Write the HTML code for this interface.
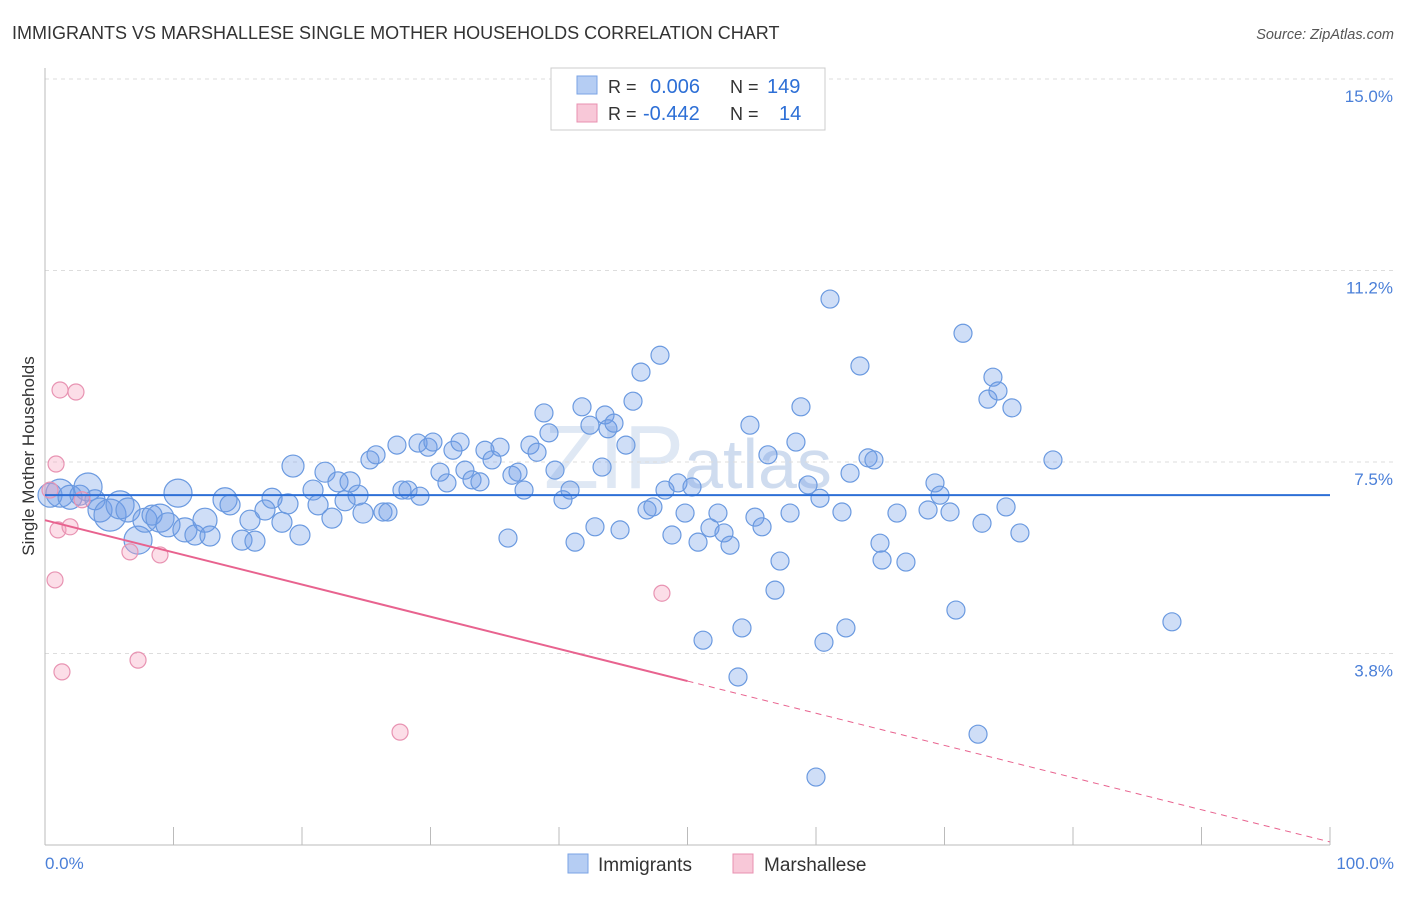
<!DOCTYPE html>
<html><head><meta charset="utf-8">
<style>
body{margin:0;background:#fff;font-family:"Liberation Sans",sans-serif;}
svg text{font-family:"Liberation Sans",sans-serif;}
</style></head>
<body>
<svg id="chart" width="1406" height="892" xmlns="http://www.w3.org/2000/svg">
<text x="12" y="39" font-size="18" fill="#333">IMMIGRANTS VS MARSHALLESE SINGLE MOTHER HOUSEHOLDS CORRELATION CHART</text>
<text x="1394" y="39" font-size="14.5" fill="#555" font-style="italic" text-anchor="end">Source: ZipAtlas.com</text>
<text x="688" y="488" font-size="90" fill="#dfe8f4" text-anchor="middle" font-family="Liberation Serif">ZIP<tspan font-family="Liberation Sans" font-size="70" fill="#cfdcef">atlas</tspan></text>
<g id="grid"></g><g id="axes"></g><g id="pts"></g><g id="lines"></g>
<text transform="translate(34,456) rotate(-90)" font-size="17" fill="#333" text-anchor="middle">Single Mother Households</text>
<text x="45" y="869" font-size="17" fill="#4a7fd8">0.0%</text>
<text x="1394" y="869" font-size="17" fill="#4a7fd8" text-anchor="end">100.0%</text>
<g>
<rect x="551" y="68" width="274" height="62" fill="#fff" stroke="#ccc"/>
<rect x="577" y="76" width="20" height="18" fill="#b5cdf3" stroke="#7aa3e5"/>
<text x="608" y="93" font-size="18" fill="#333">R =</text>
<text x="650" y="93" font-size="20" fill="#2d6fd6">0.006</text>
<text x="730" y="93" font-size="18" fill="#333">N =</text>
<text x="767" y="93" font-size="20" fill="#2d6fd6">149</text>
<rect x="577" y="104" width="20" height="18" fill="#f8c8d8" stroke="#e890b0"/>
<text x="608" y="120" font-size="18" fill="#333">R =</text>
<text x="643" y="120" font-size="20" fill="#2d6fd6">-0.442</text>
<text x="730" y="120" font-size="18" fill="#333">N =</text>
<text x="779" y="120" font-size="20" fill="#2d6fd6">14</text>
</g>
<g>
<rect x="568" y="854" width="20" height="19" fill="#b5cdf3" stroke="#7aa3e5"/>
<text x="598" y="871" font-size="19" fill="#333">Immigrants</text>
<rect x="733" y="854" width="20" height="19" fill="#f8c8d8" stroke="#e890b0"/>
<text x="764" y="871" font-size="19" fill="#333">Marshallese</text>
</g>
</svg>
<script>
const yTicks=[3.75,7.5,11.25,15];
const yTickLabels=["3.8%","7.5%","11.2%","15.0%"];
const xTicks=[0,10,20,30,40,50,60,70,80,90,100];
const blueX=[0.39,1.17,1.95,2.72,3.35,3.89,4.28,5.06,5.84,6.46,7.24,7.78,8.33,8.95,9.57,10.35,10.89,11.67,12.45,12.84,14.01,14.40,15.33,15.95,16.34,17.12,17.67,18.44,18.91,19.30,19.84,20.86,21.25,21.79,22.33,22.80,23.35,23.74,24.36,24.75,25.29,25.76,26.30,26.69,27.39,27.78,28.25,29.03,29.18,29.81,30.19,30.74,31.28,31.75,32.30,32.68,33.23,33.85,34.24,34.79,35.41,36.03,36.34,36.81,37.28,37.74,38.29,38.83,39.22,39.69,40.31,40.86,41.25,41.79,42.41,42.80,43.35,43.58,43.81,44.28,44.75,45.21,45.76,46.38,46.85,47.31,47.86,48.25,48.79,49.26,49.81,50.35,50.82,51.21,51.75,52.37,52.84,53.31,53.93,54.24,54.86,55.25,55.80,56.26,56.81,57.20,57.98,58.44,58.83,59.38,60.00,60.31,60.62,61.09,62.02,62.33,62.65,63.42,64.05,64.51,64.98,65.14,66.30,67.00,68.72,69.26,69.65,70.43,70.89,71.44,72.61,72.92,73.38,73.77,74.16,74.79,75.25,75.87,78.44,87.70];
const blueY=[6.85,6.89,6.81,6.85,7.01,6.76,6.56,6.46,6.66,6.56,5.97,6.36,6.46,6.40,6.27,6.89,6.17,6.07,6.36,6.05,6.76,6.66,5.97,6.36,5.95,6.56,6.79,6.32,6.68,7.42,6.07,6.95,6.66,7.30,6.40,7.11,6.74,7.11,6.85,6.50,7.54,7.64,6.52,6.52,7.83,6.95,6.95,7.87,6.83,7.79,7.89,7.30,7.09,7.73,7.89,7.34,7.15,7.11,7.73,7.54,7.79,6.01,7.24,7.30,6.95,7.83,7.69,8.46,8.07,7.34,6.76,6.95,5.93,8.58,8.22,6.23,7.40,8.42,8.15,8.26,6.17,7.83,8.69,9.26,6.56,6.62,9.59,6.95,6.07,7.09,6.50,7.01,5.93,4.01,6.21,6.50,6.11,5.87,3.29,4.25,8.22,6.42,6.23,7.64,4.99,5.56,6.50,7.89,8.58,7.05,1.33,6.79,3.97,10.69,6.52,4.25,7.28,9.38,7.58,7.54,5.91,5.58,6.50,5.54,6.56,7.09,6.85,6.52,4.60,10.02,2.17,6.30,8.73,9.16,8.89,6.62,8.56,6.11,7.54,4.37];
const blueSize=[12,14,12,10,14,10,12,16,14,12,14,12,10,14,12,14,12,10,12,10,12,10,10,10,10,10,10,10,10,11,10,10,10,10,10,10,10,10,10,10];
const pinkX=[0.39,0.78,1.01,1.17,1.32,0.86,1.95,2.41,2.88,6.61,7.24,8.95,27.63,48.01];
const pinkY=[6.95,5.19,6.17,8.91,3.39,7.46,6.23,8.87,6.76,5.74,3.62,5.68,2.21,4.93];
const blueFit=[6.85,6.85];
const pinkFit=[6.36,0.06];
const NS="http://www.w3.org/2000/svg";
const xs=v=>45+v*12.85, ys=v=>845-v*51.07;
function mk(parent,tag,attrs){const e=document.createElementNS(NS,tag);for(const k in attrs)e.setAttribute(k,attrs[k]);document.getElementById(parent).appendChild(e);return e;}
yTicks.forEach((t,i)=>{
 const g=mk('grid','line',{x1:45,x2:1394,y1:ys(t),y2:ys(t),stroke:'#ddd','stroke-dasharray':'4 4'});
 
 
 const l=mk('grid','text',{x:1393,y:ys(t)+23,'font-size':17,fill:'#4a7fd8','text-anchor':'end'});
 l.textContent=yTickLabels[i];
 
 
});
const tg=mk('grid','line',{x1:45,x2:1394,y1:79,y2:79,stroke:'#ddd','stroke-dasharray':'4 4'});


const ya=mk('axes','line',{x1:45,x2:45,y1:68,y2:845,stroke:'#bbb'});


const xa=mk('axes','line',{x1:45,x2:1330,y1:845,y2:845,stroke:'#bbb'});


xTicks.forEach(t=>{
 const k=mk('axes','line',{x1:xs(t),x2:xs(t),y1:827,y2:845,stroke:'#bbb'});
 
 
});
blueX.forEach((x,i)=>{
 const c=mk('pts','circle',{cx:xs(x),cy:ys(blueY[i]),r:blueSize[i]||9,fill:'rgba(110,155,230,0.33)',stroke:'#6b9ae0','stroke-width':1.2});
 
 
});
pinkX.forEach((x,i)=>{
 const c=mk('pts','circle',{cx:xs(x),cy:ys(pinkY[i]),r:8,fill:'rgba(245,160,190,0.35)',stroke:'#e893b2','stroke-width':1.2});
 
 
});
const bl=mk('lines','line',{x1:xs(0),x2:xs(100),y1:ys(blueFit[0]),y2:ys(blueFit[1]),stroke:'#2d6fd6','stroke-width':2});


const pm=v=>pinkFit[0]+(pinkFit[1]-pinkFit[0])*v/100;
const pl=mk('lines','line',{x1:xs(0),x2:xs(50),y1:ys(pm(0)),y2:ys(pm(50)),stroke:'#e8638f','stroke-width':2});


const pd=mk('lines','line',{x1:xs(50),x2:xs(100),y1:ys(pm(50)),y2:ys(pm(100)),stroke:'#e8638f','stroke-width':1,'stroke-dasharray':'6 5'});


</script>
</body></html>
